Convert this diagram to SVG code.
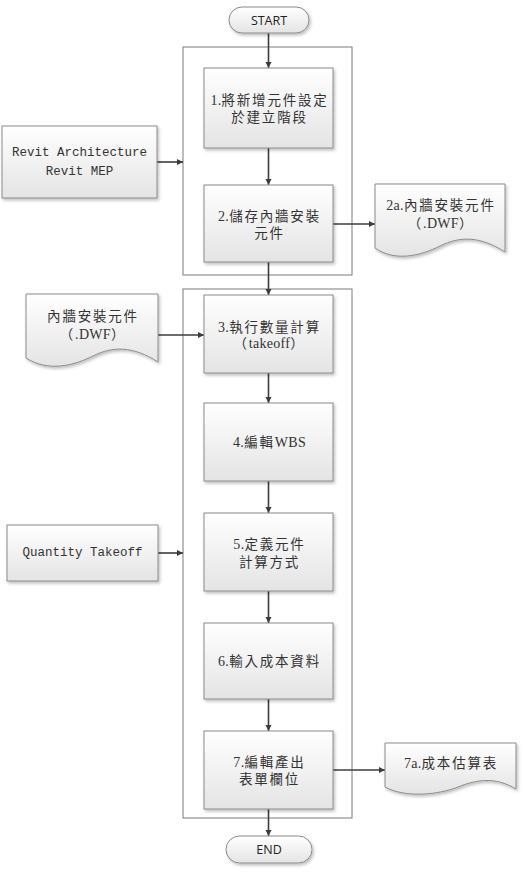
<svg xmlns="http://www.w3.org/2000/svg" width="524" height="891" viewBox="0 0 524 891">
<style>
.box{fill:url(#g);stroke:#8a8a8a;stroke-width:1;filter:url(#sh)}
.cont{fill:none;stroke:#7a7a7a;stroke-width:1}
.cn{stroke:#3c3c3c;stroke-width:1.6;fill:none;marker-end:url(#ah)}
.cj{font-family:"Liberation Serif","Noto Sans CJK TC",serif;font-size:13.5px;letter-spacing:1.8px;fill:#333;text-anchor:middle;dominant-baseline:central}
.la{letter-spacing:0.3px;font-size:14px}
.mo{font-family:"Liberation Mono",monospace;font-size:12.5px;fill:#333;text-anchor:middle;dominant-baseline:central}
.tm{font-family:"Open Sans","Liberation Sans",sans-serif;font-size:12.5px;fill:#222;text-anchor:middle;dominant-baseline:central}
</style>
<defs>
<linearGradient id="g" x1="0" y1="0" x2="0" y2="1"><stop offset="0" stop-color="#ffffff"/><stop offset="1" stop-color="#e4e4e4"/></linearGradient>
<filter id="sh" x="-10%" y="-10%" width="125%" height="130%"><feDropShadow dx="1.5" dy="2" stdDeviation="1.5" flood-color="#000" flood-opacity="0.25"/></filter>
<marker id="ah" viewBox="0 0 10 10" refX="10" refY="5" markerWidth="6.5" markerHeight="6.5" markerUnits="userSpaceOnUse" orient="auto"><path d="M0,0 L10,5 L0,10 Z" fill="#3c3c3c"/></marker>
</defs>
<rect width="524" height="891" fill="#fff"/>
<g id="containers">
<rect class="cont" x="183" y="47" width="169" height="228"/>
<rect class="cont" x="183" y="289" width="169" height="529"/>
</g>
<g id="connectors">
<line class="cn" x1="268.5" y1="33" x2="268.5" y2="68"/>
<line class="cn" x1="268.5" y1="148" x2="268.5" y2="185"/>
<line class="cn" x1="268.5" y1="262" x2="268.5" y2="295"/>
<line class="cn" x1="268.5" y1="373" x2="268.5" y2="403"/>
<line class="cn" x1="268.5" y1="481" x2="268.5" y2="513"/>
<line class="cn" x1="268.5" y1="591" x2="268.5" y2="623"/>
<line class="cn" x1="268.5" y1="699" x2="268.5" y2="731"/>
<line class="cn" x1="268.5" y1="809" x2="268.5" y2="836"/>
<line class="cn" x1="157" y1="162" x2="183" y2="162"/>
<line class="cn" x1="333" y1="224" x2="375" y2="224"/>
<line class="cn" x1="158" y1="335" x2="204" y2="335"/>
<line class="cn" x1="158" y1="553" x2="183" y2="553"/>
<line class="cn" x1="333" y1="770" x2="385" y2="770"/>
</g>
<g id="start"><rect class="box" x="229" y="7" width="80" height="26" rx="13"/><text class="tm" x="269" y="20">START</text></g>
<g id="end"><rect class="box" x="226" y="836" width="86" height="27" rx="13.5"/><text class="tm" x="269" y="849.5">END</text></g>
<g id="n1"><rect class="box" x="204" y="68" width="129" height="80"/><text class="cj" x="269.5" y="100"><tspan class="la">1.</tspan>將新增元件設定</text><text class="cj" x="269.5" y="117">於建立階段</text></g>
<g id="n2"><rect class="box" x="204" y="185" width="129" height="77"/><text class="cj" x="269.5" y="216"><tspan class="la">2.</tspan>儲存內牆安裝</text><text class="cj" x="269.5" y="233">元件</text></g>
<g id="n3"><rect class="box" x="204" y="295" width="129" height="78"/><text class="cj" x="269.5" y="327"><tspan class="la">3.</tspan>執行數量計算</text><text class="cj" x="269.5" y="343">（<tspan class="la">takeoff</tspan>）</text></g>
<g id="n4"><rect class="box" x="204" y="403" width="129" height="78"/><text class="cj" x="269.5" y="442"><tspan class="la">4.</tspan>編輯<tspan class="la">WBS</tspan></text></g>
<g id="n5"><rect class="box" x="204" y="513" width="129" height="78"/><text class="cj" x="269.5" y="544"><tspan class="la">5.</tspan>定義元件</text><text class="cj" x="269.5" y="562">計算方式</text></g>
<g id="n6"><rect class="box" x="204" y="623" width="129" height="76"/><text class="cj" x="269.5" y="661"><tspan class="la">6.</tspan>輸入成本資料</text></g>
<g id="n7"><rect class="box" x="204" y="731" width="129" height="78"/><text class="cj" x="269.5" y="762"><tspan class="la">7.</tspan>編輯產出</text><text class="cj" x="269.5" y="779">表單欄位</text></g>
<g id="revit"><rect class="box" x="2" y="126" width="155" height="72"/><text class="mo" x="79.5" y="153">Revit Architecture</text><text class="mo" x="79.5" y="172">Revit MEP</text></g>
<g id="qt"><rect class="box" x="7" y="525" width="151" height="56"/><text class="mo" x="82.5" y="553">Quantity Takeoff</text></g>
<g id="d2a"><path class="box" d="M375,184 H505 V252 C480,236 460,236 440,246 C420,256 395,262 375,248 Z"/><text class="cj" x="441" y="205"><tspan class="la">2a.</tspan>內牆安裝元件</text><text class="cj" x="441" y="223">（<tspan class="la">.DWF</tspan>）</text></g>
<g id="ddwf"><path class="box" d="M26,294 H158 V362 C133,346 113,346 93,356 C73,366 48,372 26,358 Z"/><text class="cj" x="93" y="316">內牆安裝元件</text><text class="cj" x="93" y="334">（<tspan class="la">.DWF</tspan>）</text></g>
<g id="d7a"><path class="box" d="M385,743 H516 V789 C496,777 478,779 458,787 C438,795 405,798 385,787 Z"/><text class="cj" x="451" y="763"><tspan class="la">7a.</tspan>成本估算表</text></g>
</svg>
